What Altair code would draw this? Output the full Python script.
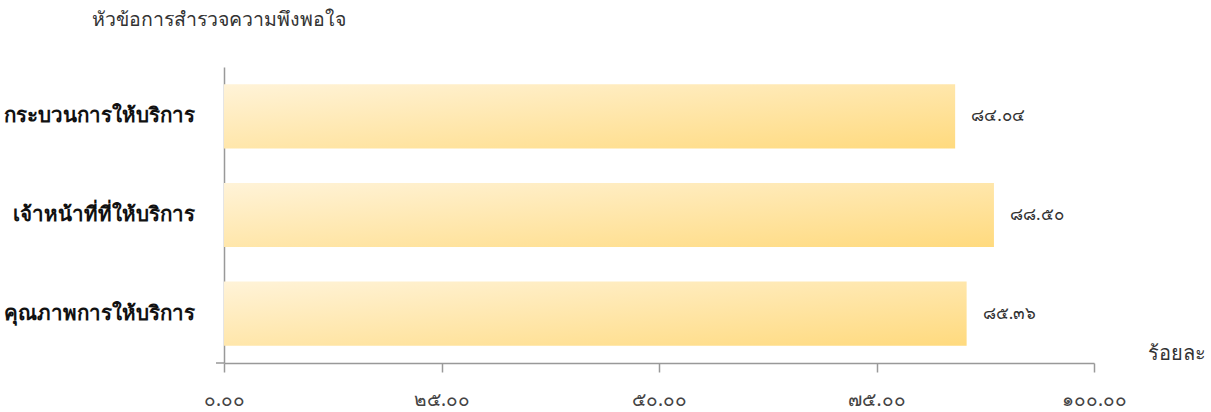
import altair as alt
import pandas as pd

categories = ["กระบวนการให้บริการ", "เจ้าหน้าที่ที่ให้บริการ", "คุณภาพการให้บริการ"]
values = [84.04, 88.50, 85.36]
x_ticks = [0, 25, 50, 75, 100]
title_text = "หัวข้อการสำรวจความพึงพอใจ"
x_title = "ร้อยละ"

thai = "๐๑๒๓๔๕๖๗๘๙"


def thai_expr(base):
    e = base
    for d in range(10):
        e = f"replace({e}, regexp('{d}', 'g'), '{thai[d]}')"
    return e


df = pd.DataFrame({"cat": categories, "val": values})

W, H = 870, 296
FONT = "Noto Sans"

grad = alt.Gradient(
    gradient="linear",
    stops=[
        alt.GradientStop(color="#FFF3D8", offset=0),
        alt.GradientStop(color="#FFDA7E", offset=1),
    ],
    x1=0, y1=0, x2=1, y2=1,
)

x_enc = alt.X(
    "val:Q",
    scale=alt.Scale(domain=[0, 100], nice=False, zero=True),
    axis=alt.Axis(
        values=x_ticks,
        labelExpr=thai_expr("format(datum.value, '.2f')"),
        title=x_title,
        titleX=952,
        titleY=-10,
        titleAlign="center",
        titleBaseline="middle",
        titleFontSize=20,
        titleFontWeight="normal",
        titleColor="#333333",
        titleFont=FONT,
        labelFontSize=19,
        labelColor="#444444",
        labelFont=FONT,
        labelPadding=18,
        tickSize=9,
        tickColor="#999999",
        tickWidth=1.5,
        domainColor="#999999",
        domainWidth=1.5,
        grid=False,
        labelFlush=False,
        labelOverlap=False,
    ),
)

y_enc = alt.Y(
    "cat:N",
    sort=categories,
    scale=alt.Scale(paddingInner=0.35, paddingOuter=0.175),
    axis=alt.Axis(
        title=None,
        labelFontSize=20.5,
        labelFontWeight="bold",
        labelColor="#111111",
        labelFont=FONT,
        labelPadding=30,
        labelLimit=400,
        ticks=False,
        domainColor="#999999",
        domainWidth=1.5,
    ),
)

bars = alt.Chart(df).mark_bar(color=grad).encode(x=x_enc, y=y_enc)

labels = (
    alt.Chart(df)
    .transform_calculate(lbl=thai_expr("format(datum.val, '.2f')"))
    .mark_text(align="left", baseline="middle", dx=16, fontSize=17, color="#333333", font=FONT)
    .encode(x="val:Q", y=alt.Y("cat:N", sort=categories), text="lbl:N")
)

ext = alt.Chart(pd.DataFrame({"a": [0]})).mark_rule(color="#999999", strokeWidth=1.5).encode(
    x=alt.value(-8), x2=alt.value(0), y=alt.value(H)
)

title = alt.Chart(pd.DataFrame({"t": [title_text]})).mark_text(
    align="left", baseline="middle", fontSize=19.5, color="#333333", font=FONT
).encode(x=alt.value(-132), y=alt.value(-47), text="t:N")

chart = (
    alt.layer(bars, labels, ext, title)
    .properties(
        width=W,
        height=H,
        autosize=alt.AutoSizeParams(type="none"),
        padding={"left": 224, "top": 67, "right": 117, "bottom": 49},
    )
    .configure_view(stroke=None)
)

chart.save("out.html", embed_options={"renderer": "svg", "actions": False})
